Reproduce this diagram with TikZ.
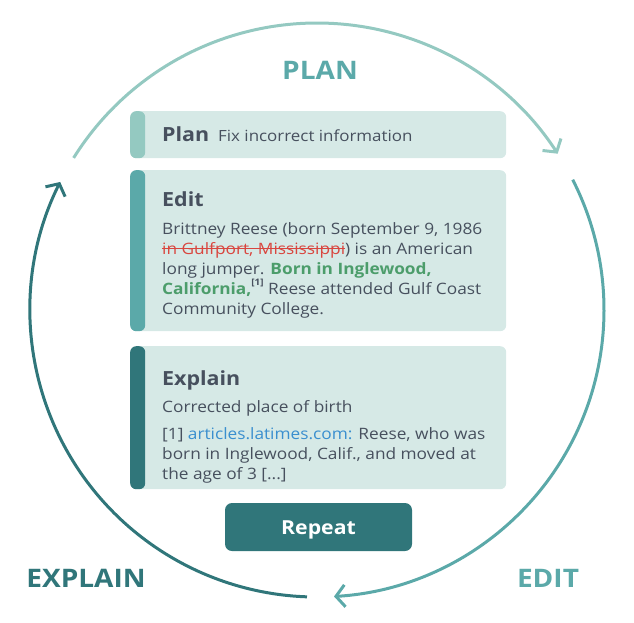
\documentclass[tikz,border=0pt]{standalone}
\usepackage{fontspec}
\setmainfont{Open Sans}[FakeStretch=1.1]
\usetikzlibrary{arrows.meta}
\definecolor{plancol}{HTML}{94C9C1}
\definecolor{editcol}{HTML}{5BA9A9}
\definecolor{explcol}{HTML}{30767A}
\definecolor{boxfill}{HTML}{D6E9E6}
\definecolor{txt}{HTML}{47505E}
\definecolor{grn}{HTML}{4C9D6B}
\definecolor{rd}{HTML}{D9463F}
\definecolor{lnk}{HTML}{3A8FCF}
\newcommand\strk[1]{\setbox0\hbox{#1}\rlap{\rule[0.3em]{\wd0}{1pt}}\box0}
\begin{document}
\begin{tikzpicture}[x=1pt,y=-1pt,
  panel/.style={draw=none, fill=boxfill, rounded corners=6pt, inner sep=0pt,
    anchor=north west, minimum width=376pt,
    path picture={\fill[#1] (path picture bounding box.north west) rectangle ([xshift=15pt]path picture bounding box.south west);}},
  ttl/.style={anchor=base west, inner sep=0pt, text=txt, font=\fontsize{19.5}{22}\selectfont\bfseries},
  body/.style={anchor=base west, inner sep=0pt, text=txt, font=\fontsize{15.7}{20}\selectfont},
  cyc/.style={line width=3pt},
  lbl/.style={font=\fontsize{25.5}{28}\selectfont\bfseries, inner sep=0pt},
  tip/.style={-{Straight Barb[length=9pt,width=22pt]}}
]
\useasboundingbox (0,0) rectangle (634,622);
\coordinate (c) at (317,310);
% cycle arcs
\draw[cyc, plancol, tip] ([shift={(148:287pt)}]c) arc[start angle=148, end angle=33, radius=287pt];
\draw[cyc, editcol, tip] ([shift={(27:287pt)}]c) arc[start angle=27, end angle=-86.6, radius=287pt];
\draw[cyc, explcol, tip] ([shift={(268:287pt)}]c) arc[start angle=268, end angle=153.5, radius=287pt];
% labels
\node[lbl, text=editcol] (lplan) at (320,70) {PLAN};
\node[lbl, text=explcol] (lexpl) at (86,578) {EXPLAIN};
\node[lbl, text=editcol] (ledit) at (548,578) {EDIT};
% panels
\node[panel=plancol, minimum height=47pt] (pplan) at (130,111) {};
\node[panel=editcol, minimum height=161pt] (pedit) at (130,170) {};
\node[panel=explcol, minimum height=143pt] (pexpl) at (130,346) {};
% plan text
\node[ttl] (tplan) at (162,141) {Plan};
\node[body, font=\fontsize{15.4}{20}\selectfont] (fplan) at (218,141) {Fix incorrect information};
% edit text
\node[ttl] (tedit) at (162,206) {Edit};
\node[body] (e1) at (162,234) {Brittney Reese (born September 9, 1986};
\node[body] (e2) at (162,254) {{\color{rd}\strk{in Gulfport, Mississippi}}) is an American};
\node[body] (e3) at (162,274) {long jumper. {\color{grn}\bfseries Born in Inglewood,}};
\node[body] (e4) at (162,294) {{\color{grn}\bfseries California,}\raisebox{0.55em}{\fontsize{9}{10}\selectfont\bfseries [1]} Reese attended Gulf Coast};
\node[body] (e5) at (162,314) {Community College.};
% explain text
\node[ttl] (texpl) at (162,385) {Explain};
\node[body] (x1) at (162,412) {Corrected place of birth};
\node[body] (x2) at (162,439) {[1] {\color{lnk}articles.latimes.com:} Reese, who was};
\node[body] (x3) at (162,459) {born in Inglewood, Calif., and moved at};
\node[body] (x4) at (162,479) {the age of 3 [...]};
% repeat button
\node[fill=explcol, rounded corners=7pt, minimum width=187pt, minimum height=48pt, inner sep=0pt,
  text height=14pt, text depth=0pt,
  text=white, font=\fontsize{19.3}{22}\selectfont\bfseries] (rep) at (318.5,527) {Repeat};
\end{tikzpicture}
\end{document}
